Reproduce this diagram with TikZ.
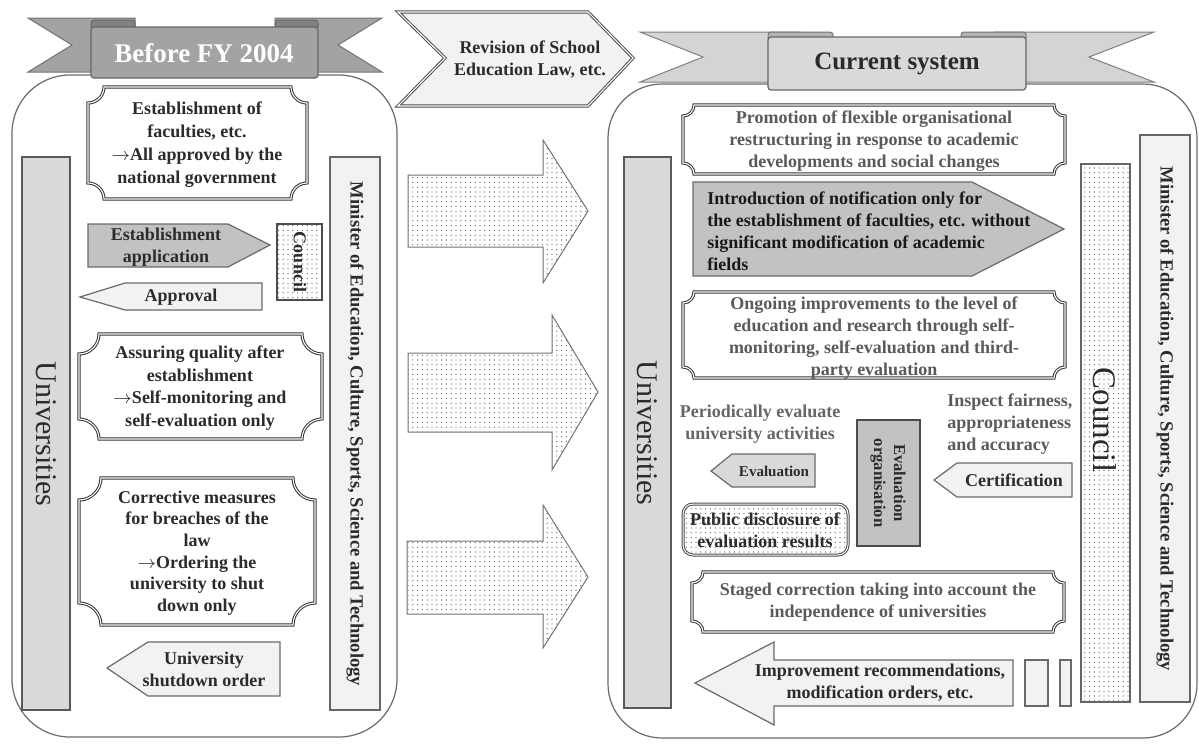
\documentclass[tikz,border=0pt]{standalone}
\usepackage{fontspec}
\setmainfont{Liberation Serif}
\usetikzlibrary{patterns.meta}

\definecolor{txtdark}{HTML}{2B2B2B}
\definecolor{txtgray}{HTML}{5A5A5A}
\definecolor{barfill}{HTML}{D9D9D9}
\definecolor{lightfill}{HTML}{F2F2F2}
\definecolor{midfill}{HTML}{C2C2C2}
\definecolor{ribbonL}{HTML}{A3A3A3}
\definecolor{ribbonR}{HTML}{D4D4D4}
\definecolor{edge}{HTML}{6A6A6A}

\newcommand\thento{\ensuremath{\rightarrow}}

% framed box with concave (scooped) corners: left, top, right, bottom, corner size
\newcommand\plaquebox[5]{%
  \draw[plaque] (#1+#5,#2) -- (#3-#5,#2)
    .. controls (#3-#5,#2+0.55*#5) and (#3-0.55*#5,#2+#5) .. (#3,#2+#5)
    -- (#3,#4-#5)
    .. controls (#3-0.55*#5,#4-#5) and (#3-#5,#4-0.55*#5) .. (#3-#5,#4)
    -- (#1+#5,#4)
    .. controls (#1+#5,#4-0.55*#5) and (#1+0.55*#5,#4-#5) .. (#1,#4-#5)
    -- (#1,#2+#5)
    .. controls (#1+0.55*#5,#2+#5) and (#1+#5,#2+0.55*#5) .. cycle;}

\begin{document}
\begin{tikzpicture}[x=0.5pt,y=-0.5pt,
  txt/.style={font=\fontsize{9}{11}\selectfont\bfseries, text=txtdark, align=center, inner sep=0pt},
  txtg/.style={txt, text=txtgray},
  plaque/.style={draw=black!80, double=white, double distance=0.55pt, line width=0.5pt, fill=white},
  panel/.style={draw=edge, line width=0.6pt, rounded corners=29pt},
  unibar/.style={draw=black!65, line width=0.9pt, fill=barfill},
  minbar/.style={draw=black!60, line width=0.9pt, fill=lightfill},
  dotfill/.style={preaction={fill=white}, pattern={Dots[distance=2.4pt, radius=0.34pt]}, pattern color=black!58},
  bigarrow/.style={draw=black!55, line width=0.5pt, dotfill},
  lightarrow/.style={draw=edge, line width=0.6pt, fill=lightfill},
  grayarrow/.style={draw=edge, line width=0.6pt, fill=midfill},
  unitxt/.style={font=\fontsize{15}{15}\selectfont, text=txtdark, inner sep=0pt},
  mintxt/.style={font=\fontsize{9.3}{11}\selectfont\bfseries, text=txtdark, inner sep=0pt}
]
\useasboundingbox (0,0) rectangle (1199,744);
\fill[white] (0,0) rectangle (1199,744);

% ---------------- left panel: before FY 2004 ----------------
\draw[panel] (12,75) rectangle (397,737);

% ribbon
\fill[ribbonL, draw=black!55, line width=0.5pt] (28,18) -- (135,18) -- (135,72) -- (28,72) -- (72,45) -- cycle;
\fill[ribbonL, draw=black!55, line width=0.5pt] (382,18) -- (275,18) -- (275,72) -- (382,72) -- (338,45) -- cycle;
\draw[fill=ribbonL!80!black, draw=black!60, line width=0.5pt, rounded corners=1.5pt] (91,20) rectangle (135,30);
\draw[fill=ribbonL!80!black, draw=black!60, line width=0.5pt, rounded corners=1.5pt] (275,20) rectangle (318,30);
\draw[fill=ribbonL, draw=black!60, line width=0.6pt, rounded corners=1.5pt] (91,27) rectangle (318,78);
\node[font=\fontsize{13.5}{14}\selectfont\bfseries, text=white, inner sep=0pt] (titleL) at (204,53) {Before FY 2004};

% side bars
\draw[unibar] (22,157) rectangle (70,710);
\node[unitxt, rotate=-90] (uniL) at (46,434) {Universities};
\draw[minbar] (330,157) rectangle (380,710);
\node[mintxt, rotate=-90] (minL) at (355,434) {Minister of Education, Culture, Sports, Science and Technology};

% establishment of faculties
\plaquebox{88}{87}{307}{199}{16}
\node[txt, font=\fontsize{9}{11.5}\selectfont\bfseries] (estab) at (197,145) {Establishment of\\faculties, etc.\\\thento All approved by the\\national government};

% application / council / approval
\draw[grayarrow] (88,224) -- (228,224) -- (270,245) -- (228,267) -- (88,267) -- cycle;
\node[txt] (apptxt) at (166,247) {Establishment\\application};
\draw[draw=black!70, line width=0.8pt, dotfill] (277,224) rectangle (322,300);
\node[txt, rotate=-90] (councilL) at (300,262) {Council};
\draw[lightarrow] (80,297) -- (125,283) -- (262,283) -- (262,310) -- (125,310) -- cycle;
\node[txt] (approvtxt) at (181,297) {Approval};

% quality assurance
\plaquebox{79}{334}{322}{439}{20}
\node[txt, font=\fontsize{9}{11.3}\selectfont\bfseries] (quality) at (200,388) {Assuring quality after\\establishment\\\thento Self-monitoring and\\self-evaluation only};

% corrective measures
\plaquebox{79}{478}{315}{625}{22}
\node[txt, font=\fontsize{9}{10.8}\selectfont\bfseries] (corrective) at (197,553) {Corrective measures\\for breaches of the\\law\\\thento Ordering the\\university to shut\\down only};

\draw[lightarrow] (107,668) -- (148,642) -- (280,642) -- (280,696) -- (148,696) -- cycle;
\node[txt] (shutdown) at (204,669) {University\\shutdown order};

% ---------------- middle ----------------
\draw[draw=black!70, double=white, double distance=0.55pt, line width=0.5pt, fill=lightfill]
  (398,12) -- (588,12) -- (633,58) -- (588,106) -- (398,106) -- (445,58) -- cycle;
\node[txt] (revision) at (530,60) {Revision of School\\Education Law, etc.};

\draw[bigarrow] (408,175) -- (543,175) -- (543,140) -- (588,211) -- (543,283) -- (543,247) -- (408,247) -- cycle;
\draw[bigarrow] (408,353) -- (552,353) -- (552,315) -- (598,392) -- (552,470) -- (552,432) -- (408,432) -- cycle;
\draw[bigarrow] (407,541) -- (543,541) -- (543,505) -- (588,577) -- (543,648) -- (543,614) -- (407,614) -- cycle;

% ---------------- right panel: current system ----------------
\draw[panel, rounded corners=27pt] (608,84) rectangle (1197,738);

% ribbon
\fill[ribbonR, draw=black!50, line width=0.5pt] (640,32) -- (800,32) -- (800,82) -- (640,82) -- (703,57) -- cycle;
\fill[ribbonR, draw=black!50, line width=0.5pt] (1154,32) -- (994,32) -- (994,82) -- (1154,82) -- (1089,57) -- cycle;
\draw[fill=ribbonR!85!black, draw=black!55, line width=0.5pt, rounded corners=1.5pt] (768,32) rectangle (833,41);
\draw[fill=ribbonR!85!black, draw=black!55, line width=0.5pt, rounded corners=1.5pt] (961,32) rectangle (1026,41);
\draw[fill=barfill, draw=black!60, line width=0.6pt, rounded corners=1.5pt] (768,37) rectangle (1026,90);
\node[font=\fontsize{12.5}{13}\selectfont\bfseries, text=txtdark, inner sep=0pt] (titleR) at (897,64) {Current system};

% side bars
\draw[unibar] (624,157) rectangle (671,708);
\node[unitxt, rotate=-90] (uniR) at (647,433) {Universities};
\draw[draw=black!60, line width=0.9pt, dotfill] (1081,164) rectangle (1130,702);
\node[unitxt, font=\fontsize{16.5}{16.5}\selectfont, rotate=-90] (councilR) at (1105,420) {Council};
\draw[minbar] (1140,135) rectangle (1190,702);
\node[mintxt, rotate=-90] (minR) at (1165,419) {Minister of Education, Culture, Sports, Science and Technology};

% restructuring
\plaquebox{683}{105}{1065}{174}{11}
\node[txtg] (promo) at (874,141) {Promotion of flexible organisational\\restructuring in response to academic\\developments and social changes};

% notification
\draw[grayarrow] (693,182) -- (972,182) -- (1064,229) -- (972,276) -- (693,276) -- cycle;
\node[txt, align=left, anchor=west, text=black!90] (intro) at (707,231) {Introduction of notification only for\\the establishment of faculties, etc. without\\significant modification of academic\\fields};

% ongoing improvements
\plaquebox{683}{292}{1065}{378}{11}
\node[txtg] (ongoing) at (874,338) {Ongoing improvements to the level of\\education and research through self-\\monitoring, self-evaluation and third-\\party evaluation};

% evaluation organisation
\node[txtg, text=black!60] (periodic) at (760,424) {Periodically evaluate\\university activities};
\draw[lightarrow, fill=barfill] (711,471) -- (732,454) -- (815,454) -- (815,487) -- (732,487) -- cycle;
\node[txt, font=\fontsize{7.5}{9}\selectfont\bfseries] (evaltxt) at (774,471) {Evaluation};
\draw[draw=black!70, line width=0.8pt, fill=midfill] (857,420) rectangle (920,546);
\node[txt, font=\fontsize{8.3}{10}\selectfont\bfseries, rotate=-90] (evalorg) at (888,483) {Evaluation\\organisation};
\draw[draw=black!70, double=white, double distance=0.5pt, line width=0.5pt, rounded corners=5pt, dotfill] (683,504) rectangle (848,555);
\node[txt] (public) at (765,530) {Public disclosure of\\evaluation results};
\node[txtg, align=left, anchor=west] (inspect) at (947,424) {Inspect fairness,\\appropriateness\\and accuracy};
\draw[lightarrow] (934,480) -- (957,463) -- (1072,463) -- (1072,497) -- (957,497) -- cycle;
\node[txt] (cert) at (1014,480) {Certification};

% staged correction
\plaquebox{692}{572}{1064}{632}{11}
\node[txtg] (staged) at (878,602) {Staged correction taking into account the\\independence of universities};

% recommendations
\draw[lightarrow] (695,683) -- (774,642) -- (774,660) -- (1013,660) -- (1013,706) -- (774,706) -- (774,725) -- cycle;
\node[txt] (improve) at (880,683) {Improvement recommendations,\\modification orders, etc.};
\draw[lightarrow] (1025,660) rectangle (1048,706);
\draw[lightarrow] (1060,660) rectangle (1071,706);
\end{tikzpicture}
\end{document}
